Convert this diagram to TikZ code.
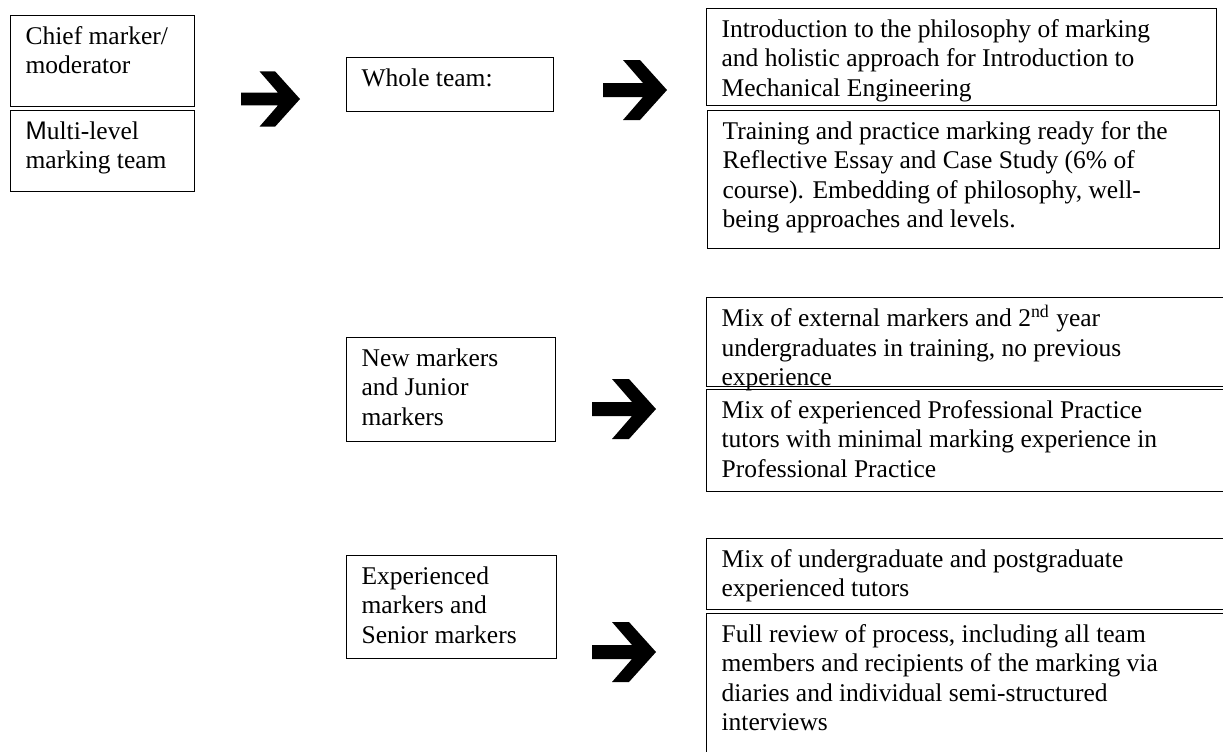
\documentclass[tikz,border=0pt]{standalone}
\usepackage{fontspec}
\setmainfont{Liberation Serif}
\setsansfont{Liberation Sans}
\usepackage{tikz}
\tikzset{
    plan-box/.style = {draw, line width=0.6pt, rectangle, anchor=north west, inner xsep=7.5pt, inner ysep=4pt, font=\fontsize{12.75pt}{14.75pt}\selectfont},
    big-arrow/.pic = {
        \fill[black] (-64,-7) -- (-24,-7) -- (-44,-30) -- (-27,-30) -- (0,0) -- (-27,30) -- (-44,30) -- (-24,7) -- (-64,7) -- cycle;
    },
}
\newcommand{\boxtext}[3]{\begin{minipage}[t][#2][t]{#1}\raggedright\strut #3\end{minipage}}

\begin{document}
\begin{tikzpicture}[x=0.5pt, y=-0.5pt]
\useasboundingbox (0,0) rectangle (1223,751);
\node[plan-box] (chief) at (10,15) {\boxtext{77pt}{37.5pt}{Chief marker/\\moderator}};
\node[plan-box] (team) at (10,110) {\boxtext{77pt}{32.5pt}{{\sffamily M}ulti-level\\marking team}};
\node[plan-box] (whole) at (346,57) {\boxtext{88.5pt}{19pt}{Whole team:}};
\node[plan-box] (newm) at (346,337) {\boxtext{89.5pt}{44pt}{New markers\\and Junior\\markers}};
\node[plan-box] (expm) at (346,555) {\boxtext{90pt}{43.5pt}{Experienced\\markers and\\Senior markers}};
\node[plan-box] (intro) at (706,8) {\boxtext{240pt}{40.5pt}{Introduction to the philosophy of marking\\and holistic approach for Introduction to\\Mechanical Engineering}};
\node[plan-box] (train) at (707,110) {\boxtext{241pt}{61pt}{Training and practice marking ready for the\\Reflective Essay and Case Study (6\% of\\course). Embedding of philosophy, well-\\being approaches and levels.}};
\node[plan-box] (ext) at (706,297) {\boxtext{265pt}{36.5pt}{Mix of external markers and 2\textsuperscript{nd} year\\undergraduates in training, no previous\\experience}};
\node[plan-box] (prof) at (706,389) {\boxtext{265pt}{43pt}{Mix of experienced Professional Practice\\tutors with minimal marking experience in\\Professional Practice}};
\node[plan-box] (ug) at (706,538) {\boxtext{265pt}{27.5pt}{Mix of undergraduate and postgraduate\\experienced tutors}};
\node[plan-box] (review) at (706,613) {\boxtext{265pt}{72pt}{Full review of process, including all team\\members and recipients of the marking via\\diaries and individual semi-structured\\interviews}};
\pic[scale=0.92] (arrow-team) at (300,99) {big-arrow};
\pic (arrow-whole) at (667,90) {big-arrow};
\pic (arrow-new) at (656,409) {big-arrow};
\pic (arrow-exp) at (656,652) {big-arrow};
\end{tikzpicture}
\end{document}
